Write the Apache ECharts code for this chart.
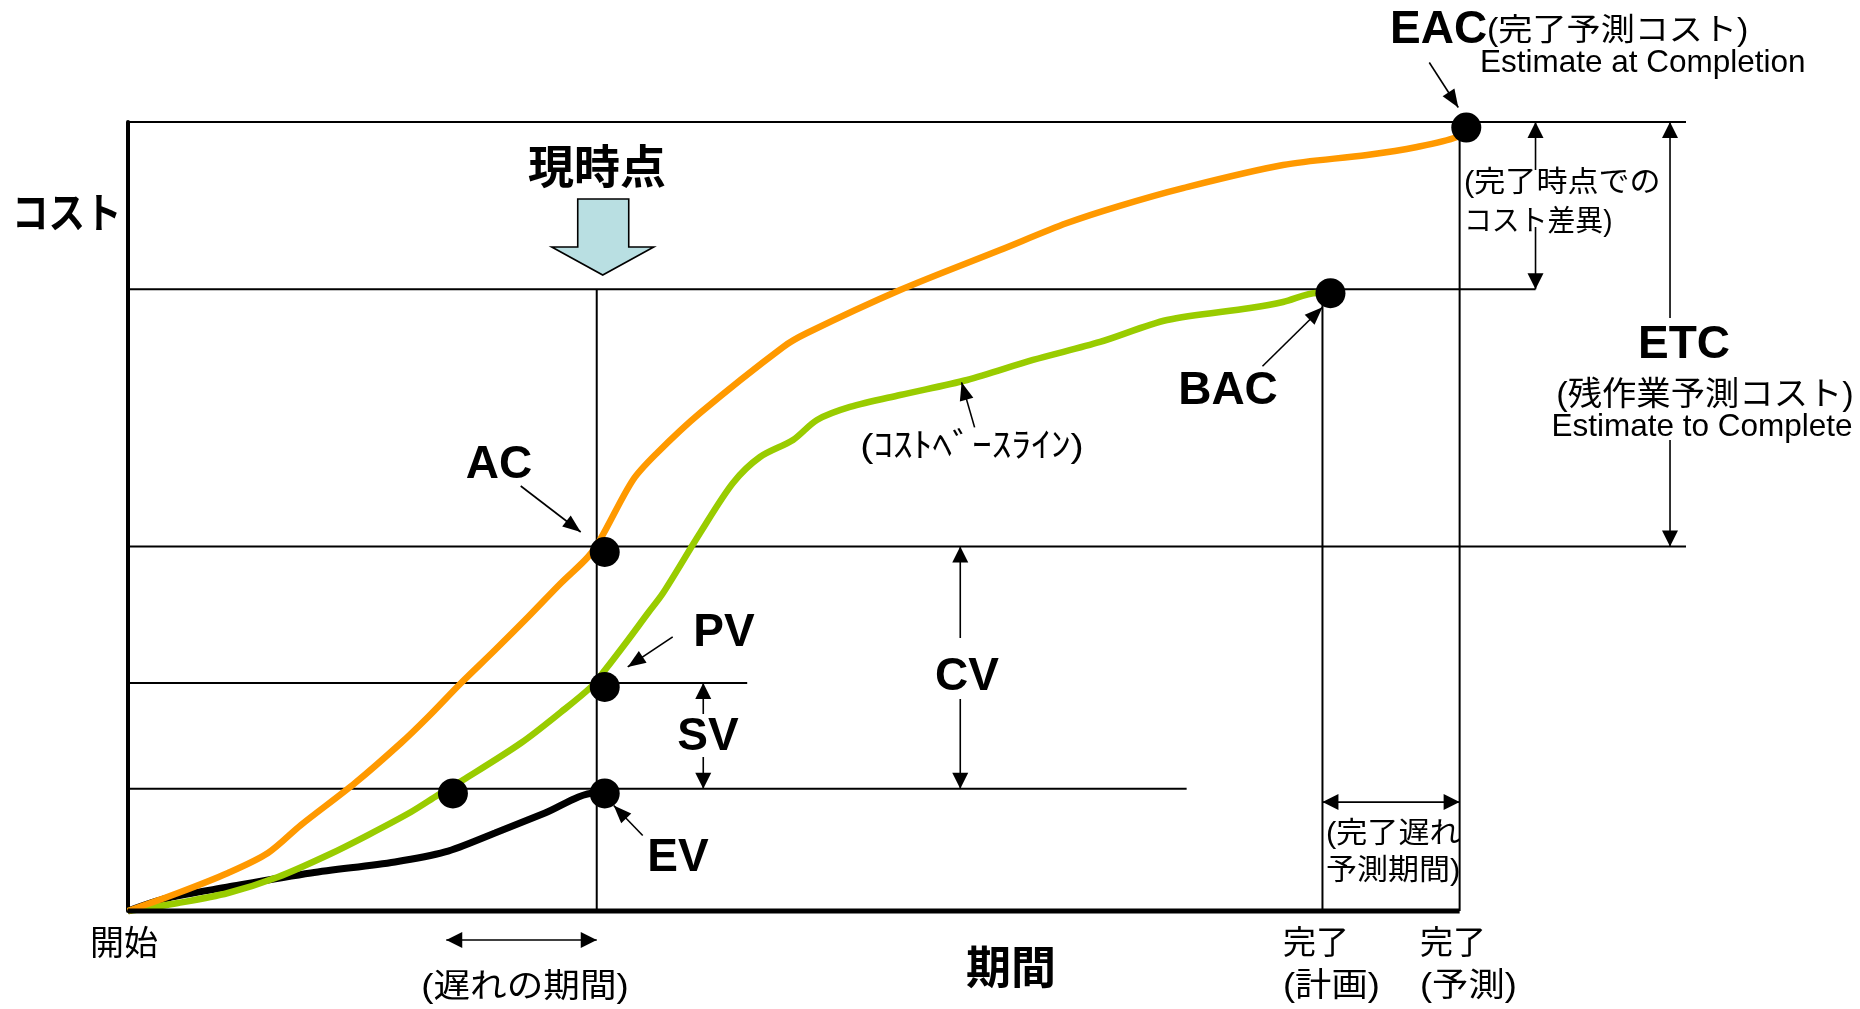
<!DOCTYPE html>
<html>
<head>
<meta charset="utf-8">
<title>EVM</title>
<script src="https://cdn.jsdelivr.net/npm/echarts@6/dist/echarts.min.js"></script>
<style>
  html, body { margin: 0; padding: 0; background: #fff; }
  #chart { width: 1860px; height: 1009px; }
</style>
</head>
<body>
<div id="chart"></div>
<script>
// アーンド・バリュー管理（EVM）の概念図

// 期間軸：0 = 開始、100 = 完了（予測）
const periodMarks = { now: 35.2, planEnd: 89.7, forecastEnd: 100 };

// コスト軸の基準レベル（0〜100）
const costLevels = { EAC: 100, BAC: 78.8, AC: 46.2, PV: 28.9, EV: 15.5 };

// 実コスト（AC）と完了までの予測（→ EAC）
const acForecastCurve = [
  [0, 0], [3.75, 2.28], [7.51, 4.82], [10.51, 7.35], [12.99, 10.9], [17.05, 16.22],
  [20.5, 21.29], [22.53, 24.59], [25.01, 28.9], [27.56, 33.08], [30.04, 37.26],
  [32.52, 41.57], [34.54, 44.87], [35.52, 47.27], [37.92, 54.63], [39.73, 58.05],
  [42.96, 63.12], [49.19, 71.48], [50.99, 73.26], [57.98, 78.71], [65.49, 83.78],
  [70.52, 87.2], [74.42, 89.35], [79.23, 91.63], [86.74, 94.55], [93.05, 95.82],
  [96.8, 96.83], [99.8, 98.1], [100.5, 99.3]
];

// 計画値（PV）＝コストベースライン（→ BAC）
const pvCurve = [
  [0, 0], [3.75, 1.01], [7.51, 2.28], [11.26, 4.31], [15.02, 7.1], [18.02, 9.63],
  [21.25, 12.55], [23.28, 14.7], [25.16, 16.6], [29.51, 21.29], [32.52, 25.22],
  [34.77, 28.39], [35.82, 30.54], [37.55, 34.35], [39.05, 37.77], [40.18, 40.3],
  [42.96, 47.91], [45.43, 54.25], [47.46, 57.54], [49.94, 59.7], [51.74, 62.23],
  [54.22, 63.88], [57.98, 65.4], [63.01, 67.3], [67.96, 69.84], [73.0, 72.12],
  [78.03, 74.9], [84.26, 76.43], [86.74, 77.19], [89.29, 78.33], [90.27, 78.33]
];

// 出来高（EV）
const evCurve = [
  [0, 0], [3.0, 1.65], [7.51, 3.04], [13.74, 4.82], [20.05, 6.21], [23.81, 7.48],
  [27.56, 9.89], [31.32, 12.42], [35.07, 14.96], [35.8, 14.92]
];

// 主要ポイント
const pointEAC = [100.5, 99.3];
const pointBAC = [90.3, 78.3];
const pointAC = [35.8, 45.5];
const pointPV = [35.8, 28.4];
const pointEV = [35.8, 14.9];
const pointPlanAtEV = [24.4, 14.9];
const baselineTag = [62.6, 67.0];

// 補助線：[コスト, 期間の始点, 期間の終点]
const levelLines = [
  [costLevels.EAC, 0, 117],
  [costLevels.BAC, 0, 105.7],
  [costLevels.AC, 0, 117],
  [costLevels.PV, 0, 46.5],
  [costLevels.EV, 0, 79.5]
];
// 縦線：[期間, コストの始点, コストの終点]
const periodLines = [
  [periodMarks.now, 0, costLevels.BAC],
  [periodMarks.planEnd, 0, costLevels.BAC],
  [periodMarks.forecastEnd, 0, costLevels.EAC]
];

// 寸法矢印の位置
const cvAt = 62.5, svAt = 43.2, etcAt = 115.8, vacAt = 105.7;
const delayFrom = 23.9;
const finishDelayLevel = 13.8;

const ORANGE = '#FF9900', GREEN = '#99CC00';
const JP = '"Liberation Sans", "Noto Sans CJK JP", sans-serif';
const LAT = '"Liberation Sans", Arial, sans-serif';
const JPB = '"Noto Sans CJK JP", sans-serif';

const chart = echarts.init(document.getElementById('chart'), null, { renderer: 'canvas' });

function seg(a, b, w) {
  return { type: 'line', shape: { x1: a[0], y1: a[1], x2: b[0], y2: b[1] },
           style: { stroke: '#000', lineWidth: w || 1.6 } };
}
function head(tip, from, len, half) {
  len = len || 16; half = half || 8;
  const dx = tip[0] - from[0], dy = tip[1] - from[1];
  const d = Math.hypot(dx, dy) || 1;
  const ux = dx / d, uy = dy / d;
  const bx = tip[0] - ux * len, by = tip[1] - uy * len;
  return { type: 'polygon',
           shape: { points: [tip, [bx - uy * half, by + ux * half], [bx + uy * half, by - ux * half]] },
           style: { fill: '#000' } };
}

function renderNotes(params, api) {
  const P = v => api.coord(v);
  const kids = [];

  // 縦の寸法矢印（文字の部分は線を切る）
  const vDim = (x, top, bot, gap) => {
    const a = P([x, top]), b = P([x, bot]);
    kids.push(seg(a, [a[0], gap[0]]), seg([b[0], gap[1]], b));
    kids.push(head(a, [a[0], a[1] + 1]), head(b, [b[0], b[1] - 1]));
  };
  vDim(cvAt, costLevels.AC, costLevels.EV, [638, 699]);
  vDim(svAt, costLevels.PV, costLevels.EV, [714, 757]);
  vDim(etcAt, costLevels.EAC, costLevels.AC, [318, 440]);
  vDim(vacAt, costLevels.EAC, costLevels.BAC, [170, 227]);

  // 横の寸法矢印
  const hDim = (a, b) => {
    kids.push(seg(a, b), head(a, [a[0] + 1, a[1]]), head(b, [b[0] - 1, b[1]]));
  };
  const axisY = P([0, 0])[1];
  hDim([P([delayFrom, 0])[0], axisY + 29], [P([periodMarks.now, 0])[0], axisY + 29]);
  hDim(P([periodMarks.planEnd, finishDelayLevel]), P([periodMarks.forecastEnd, finishDelayLevel]));

  // 引き出し矢印
  const leader = (pt, tipOff, tailOff) => {
    const c = P(pt);
    const tip = [c[0] + tipOff[0], c[1] + tipOff[1]];
    const tail = [tip[0] + tailOff[0], tip[1] + tailOff[1]];
    kids.push(seg(tail, tip, 1.6), head(tip, tail, 18, 7));
  };
  leader(pointEAC, [-8, -20], [-29, -45]);
  leader(pointAC, [-24, -20], [-60, -46]);
  leader(pointPV, [23, -20], [45, -30]);
  leader(pointEV, [9, 12], [29, 30]);
  leader(pointBAC, [-8, 14], [-60, 59]);
  leader(baselineTag, [0, 0], [13, 45]);

  // 現時点を示す矢印
  const cx = P([periodMarks.now, 0])[0] + 6;
  kids.push({
    type: 'polygon',
    shape: { points: [[cx - 25, 199], [cx + 26, 199], [cx + 26, 247], [cx + 51, 247],
                      [cx, 275], [cx - 51, 247], [cx - 25, 247]] },
    style: { fill: '#B9DFE2', stroke: '#000', lineWidth: 1.6 }
  });

  return { type: 'group', children: kids };
}

function text(str, font, x, y, align, sx) {
  return {
    type: 'text', x: x, y: y, scaleX: sx || 1, silent: true, z: 100,
    style: { text: str, font: font, fill: '#000',
             align: align, textAlign: align,
             verticalAlign: 'middle', textVerticalAlign: 'middle' }
  };
}

const labels = [
  text('EAC', 'bold 46px ' + LAT, 1390, 30, 'left'),
  text('(完了予測コスト)', '31px ' + JP, 1487, 31, 'left', 1.10),
  text('Estimate at Completion', '31.5px ' + LAT, 1480, 63, 'left'),
  text('現時点', 'bold 46px ' + JPB, 597, 166, 'center'),
  text('コスト', 'bold 42px ' + JPB, 12, 212, 'left', 0.87),
  text('AC', 'bold 46px ' + LAT, 499, 465, 'center'),
  text('PV', 'bold 46px ' + LAT, 724, 633, 'center'),
  text('SV', 'bold 46px ' + LAT, 708, 737, 'center'),
  text('CV', 'bold 46px ' + LAT, 967, 677, 'center'),
  text('EV', 'bold 46px ' + LAT, 678, 858, 'center'),
  text('BAC', 'bold 46px ' + LAT, 1228, 391, 'center'),
  text('ETC', 'bold 46px ' + LAT, 1684, 345, 'center'),
  text('(残作業予測コスト)', '33px ' + JP, 1705, 396, 'center', 1.04),
  text('Estimate to Complete', '31.5px ' + LAT, 1702, 427, 'center'),
  text('(完了時点での', '29px ' + JP, 1464, 184, 'left', 1.07),
  text('コスト差異)', '29px ' + JP, 1464, 223, 'left', 0.96),
  text('(完了遅れ', '29px ' + JP, 1326, 835, 'left', 1.07),
  text('予測期間)', '29px ' + JP, 1326, 872, 'left', 1.07),
  text('(ｺｽﾄﾍﾞｰｽﾗｲﾝ)', '34px ' + JP, 972, 448, 'center', 1.16),
  text('(遅れの期間)', '33px ' + JP, 525, 988, 'center', 1.11),
  text('開始', '34px ' + JP, 124, 946, 'center'),
  text('期間', 'bold 45px ' + JPB, 1011, 967, 'center'),
  text('完了', '33px ' + JP, 1283, 945, 'left'),
  text('(計画)', '33px ' + JP, 1283, 987, 'left', 1.1),
  text('完了', '33px ' + JP, 1420, 945, 'left'),
  text('(予測)', '33px ' + JP, 1420, 987, 'left', 1.1)
];

const thin = { color: '#000', width: 2 };
const guideSeries = [];
levelLines.forEach(([y, x0, x1]) => guideSeries.push({
  type: 'line', data: [[x0, y], [x1, y]], showSymbol: false, clip: false, silent: true,
  lineStyle: thin, z: 1
}));
periodLines.forEach(([x, y0, y1]) => guideSeries.push({
  type: 'line', data: [[x, y0], [x, y1]], showSymbol: false, clip: false, silent: true,
  lineStyle: thin, z: 1
}));

const option = {
  animation: false,
  backgroundColor: '#fff',
  grid: { left: 128, top: 122, width: 1558, height: 789, containLabel: false },
  xAxis: {
    type: 'value', min: 0, max: 117,
    axisLine: { show: false }, axisTick: { show: false },
    axisLabel: { show: false }, splitLine: { show: false }
  },
  yAxis: {
    type: 'value', min: 0, max: 100,
    axisLine: { show: true, lineStyle: { color: '#000', width: 4 } },
    axisTick: { show: false }, axisLabel: { show: false }, splitLine: { show: false }
  },
  series: guideSeries.concat([
    {
      name: 'EV', type: 'line', data: evCurve, smooth: 0.3, showSymbol: false,
      clip: false, silent: true, lineStyle: { color: '#000', width: 7 }, z: 2
    },
    {
      name: 'PV', type: 'line', data: pvCurve, smooth: 0.3, showSymbol: false,
      clip: false, silent: true, lineStyle: { color: GREEN, width: 6.5 }, z: 3
    },
    {
      name: 'AC', type: 'line', data: acForecastCurve, smooth: 0.3, showSymbol: false,
      clip: false, silent: true, lineStyle: { color: ORANGE, width: 6.5 }, z: 3
    },
    {
      name: '期間軸', type: 'line', data: [[0, 0], [periodMarks.forecastEnd, 0]],
      showSymbol: false, clip: false, silent: true,
      lineStyle: { color: '#000', width: 5 }, z: 4
    },
    {
      name: 'ポイント', type: 'scatter', symbol: 'circle', symbolSize: 30,
      data: [pointEAC, pointBAC, pointAC, pointPV, pointEV, pointPlanAtEV],
      itemStyle: { color: '#000', opacity: 1 }, clip: false, silent: true, z: 5
    },
    {
      name: '注記', type: 'custom', data: [[0, 0]], renderItem: renderNotes,
      clip: false, silent: true, z: 6
    }
  ]),
  graphic: { elements: labels }
};

chart.setOption(option);
</script>
</body>
</html>
